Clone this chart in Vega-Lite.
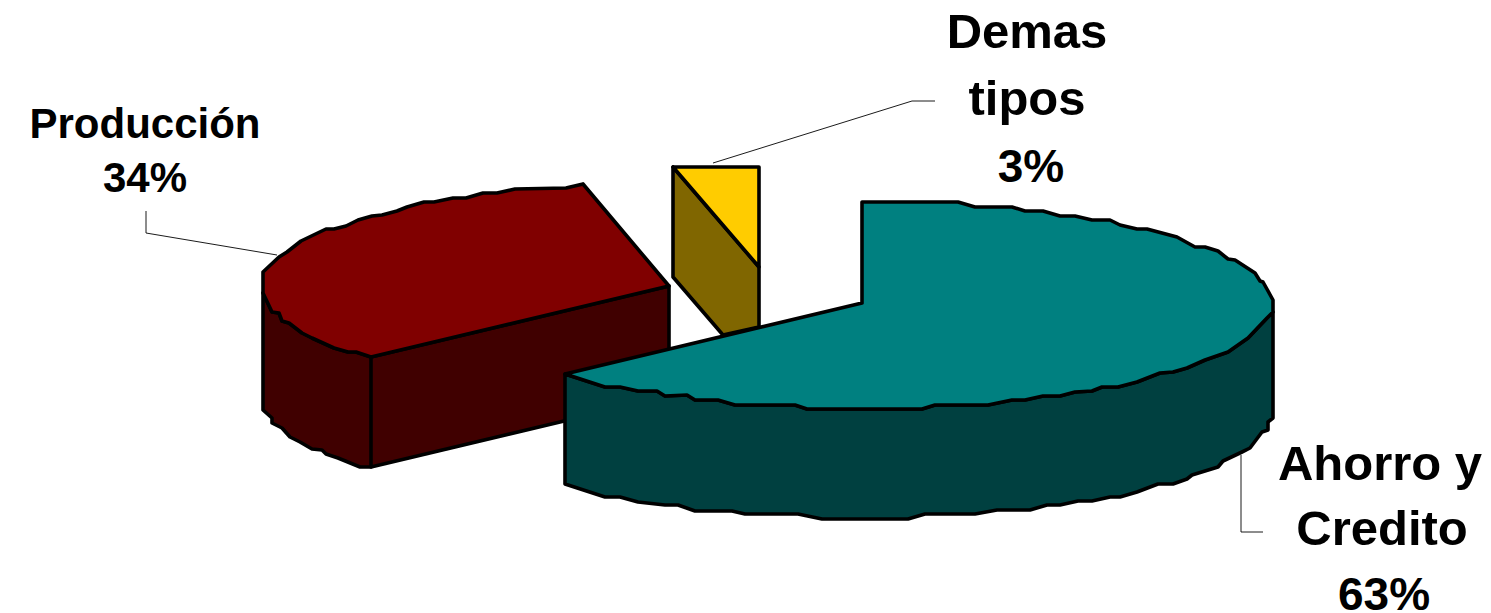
{"$schema":"https://vega.github.io/schema/vega-lite/v6.json","width":1491,"height":613,"padding":0,"autosize":{"type":"none"},"background":"white","view":{"stroke":null},
"layer":[
{"data":{"values":[
{"f":"Produccion lateral","x":263,"y":293},{"f":"Produccion lateral","x":272,"y":312},{"f":"Produccion lateral","x":279,"y":313},{"f":"Produccion lateral","x":282,"y":321},{"f":"Produccion lateral","x":289,"y":323},{"f":"Produccion lateral","x":302,"y":333},{"f":"Produccion lateral","x":312,"y":338},{"f":"Produccion lateral","x":334,"y":348},{"f":"Produccion lateral","x":348,"y":352},{"f":"Produccion lateral","x":356,"y":352},{"f":"Produccion lateral","x":371,"y":357},{"f":"Produccion lateral","x":669,"y":286},{"f":"Produccion lateral","x":669,"y":396},{"f":"Produccion lateral","x":371,"y":467},{"f":"Produccion lateral","x":360,"y":467},{"f":"Produccion lateral","x":338,"y":458},{"f":"Produccion lateral","x":326,"y":454},{"f":"Produccion lateral","x":322,"y":450},{"f":"Produccion lateral","x":312,"y":449},{"f":"Produccion lateral","x":300,"y":442},{"f":"Produccion lateral","x":290,"y":437},{"f":"Produccion lateral","x":282,"y":428},{"f":"Produccion lateral","x":272,"y":423},{"f":"Produccion lateral","x":272,"y":418},{"f":"Produccion lateral","x":263,"y":410},{"f":"Produccion lateral","x":263,"y":293},
{"f":"Produccion corte","x":371,"y":357},{"f":"Produccion corte","x":371,"y":467},
{"f":"Produccion","x":583,"y":184},{"f":"Produccion","x":566,"y":188},{"f":"Produccion","x":515,"y":189},{"f":"Produccion","x":497,"y":193},{"f":"Produccion","x":483,"y":193},{"f":"Produccion","x":466,"y":198},{"f":"Produccion","x":453,"y":198},{"f":"Produccion","x":434,"y":202},{"f":"Produccion","x":424,"y":202},{"f":"Produccion","x":407,"y":207},{"f":"Produccion","x":397,"y":211},{"f":"Produccion","x":382,"y":215},{"f":"Produccion","x":372,"y":216},{"f":"Produccion","x":358,"y":220},{"f":"Produccion","x":346,"y":226},{"f":"Produccion","x":334,"y":229},{"f":"Produccion","x":326,"y":229},{"f":"Produccion","x":301,"y":241},{"f":"Produccion","x":287,"y":252},{"f":"Produccion","x":279,"y":257},{"f":"Produccion","x":263,"y":272},{"f":"Produccion","x":263,"y":293},{"f":"Produccion","x":272,"y":312},{"f":"Produccion","x":279,"y":313},{"f":"Produccion","x":282,"y":321},{"f":"Produccion","x":289,"y":323},{"f":"Produccion","x":302,"y":333},{"f":"Produccion","x":312,"y":338},{"f":"Produccion","x":334,"y":348},{"f":"Produccion","x":348,"y":352},{"f":"Produccion","x":356,"y":352},{"f":"Produccion","x":371,"y":357},{"f":"Produccion","x":669,"y":286},{"f":"Produccion","x":583,"y":184},
{"f":"Demas lateral","x":673,"y":167},{"f":"Demas lateral","x":759,"y":267},{"f":"Demas lateral","x":759,"y":327},{"f":"Demas lateral","x":723,"y":335},{"f":"Demas lateral","x":673,"y":277},{"f":"Demas lateral","x":673,"y":167},
{"f":"Demas","x":673,"y":167},{"f":"Demas","x":759,"y":167},{"f":"Demas","x":759,"y":267},{"f":"Demas","x":673,"y":167},
{"f":"Ahorro lateral","x":1273,"y":312},{"f":"Ahorro lateral","x":1267,"y":318},{"f":"Ahorro lateral","x":1248,"y":338},{"f":"Ahorro lateral","x":1228,"y":352},{"f":"Ahorro lateral","x":1205,"y":360},{"f":"Ahorro lateral","x":1187,"y":368},{"f":"Ahorro lateral","x":1173,"y":372},{"f":"Ahorro lateral","x":1160,"y":373},{"f":"Ahorro lateral","x":1137,"y":382},{"f":"Ahorro lateral","x":1118,"y":387},{"f":"Ahorro lateral","x":1102,"y":387},{"f":"Ahorro lateral","x":1092,"y":391},{"f":"Ahorro lateral","x":1075,"y":392},{"f":"Ahorro lateral","x":1060,"y":396},{"f":"Ahorro lateral","x":1043,"y":396},{"f":"Ahorro lateral","x":1025,"y":400},{"f":"Ahorro lateral","x":1012,"y":400},{"f":"Ahorro lateral","x":988,"y":405},{"f":"Ahorro lateral","x":935,"y":405},{"f":"Ahorro lateral","x":922,"y":409},{"f":"Ahorro lateral","x":807,"y":409},{"f":"Ahorro lateral","x":795,"y":405},{"f":"Ahorro lateral","x":735,"y":405},{"f":"Ahorro lateral","x":718,"y":400},{"f":"Ahorro lateral","x":695,"y":400},{"f":"Ahorro lateral","x":687,"y":395},{"f":"Ahorro lateral","x":665,"y":396},{"f":"Ahorro lateral","x":657,"y":391},{"f":"Ahorro lateral","x":638,"y":391},{"f":"Ahorro lateral","x":620,"y":387},{"f":"Ahorro lateral","x":605,"y":387},{"f":"Ahorro lateral","x":565,"y":374},{"f":"Ahorro lateral","x":565,"y":484},{"f":"Ahorro lateral","x":605,"y":497},{"f":"Ahorro lateral","x":620,"y":497},{"f":"Ahorro lateral","x":638,"y":502},{"f":"Ahorro lateral","x":665,"y":505},{"f":"Ahorro lateral","x":678,"y":505},{"f":"Ahorro lateral","x":695,"y":511},{"f":"Ahorro lateral","x":732,"y":511},{"f":"Ahorro lateral","x":745,"y":514},{"f":"Ahorro lateral","x":798,"y":514},{"f":"Ahorro lateral","x":822,"y":519},{"f":"Ahorro lateral","x":908,"y":519},{"f":"Ahorro lateral","x":925,"y":514},{"f":"Ahorro lateral","x":975,"y":514},{"f":"Ahorro lateral","x":997,"y":510},{"f":"Ahorro lateral","x":1030,"y":510},{"f":"Ahorro lateral","x":1047,"y":505},{"f":"Ahorro lateral","x":1060,"y":505},{"f":"Ahorro lateral","x":1078,"y":501},{"f":"Ahorro lateral","x":1092,"y":501},{"f":"Ahorro lateral","x":1110,"y":497},{"f":"Ahorro lateral","x":1120,"y":497},{"f":"Ahorro lateral","x":1137,"y":492},{"f":"Ahorro lateral","x":1158,"y":484},{"f":"Ahorro lateral","x":1173,"y":484},{"f":"Ahorro lateral","x":1187,"y":479},{"f":"Ahorro lateral","x":1192,"y":475},{"f":"Ahorro lateral","x":1218,"y":467},{"f":"Ahorro lateral","x":1223,"y":461},{"f":"Ahorro lateral","x":1242,"y":452},{"f":"Ahorro lateral","x":1250,"y":448},{"f":"Ahorro lateral","x":1262,"y":432},{"f":"Ahorro lateral","x":1268,"y":430},{"f":"Ahorro lateral","x":1268,"y":422},{"f":"Ahorro lateral","x":1273,"y":418},{"f":"Ahorro lateral","x":1273,"y":312},
{"f":"Ahorro","x":862,"y":303},{"f":"Ahorro","x":862,"y":202},{"f":"Ahorro","x":958,"y":202},{"f":"Ahorro","x":975,"y":207},{"f":"Ahorro","x":1012,"y":207},{"f":"Ahorro","x":1025,"y":211},{"f":"Ahorro","x":1043,"y":211},{"f":"Ahorro","x":1060,"y":216},{"f":"Ahorro","x":1075,"y":216},{"f":"Ahorro","x":1092,"y":220},{"f":"Ahorro","x":1110,"y":220},{"f":"Ahorro","x":1120,"y":225},{"f":"Ahorro","x":1137,"y":229},{"f":"Ahorro","x":1147,"y":229},{"f":"Ahorro","x":1177,"y":237},{"f":"Ahorro","x":1195,"y":247},{"f":"Ahorro","x":1205,"y":247},{"f":"Ahorro","x":1218,"y":251},{"f":"Ahorro","x":1228,"y":259},{"f":"Ahorro","x":1235,"y":260},{"f":"Ahorro","x":1255,"y":273},{"f":"Ahorro","x":1260,"y":281},{"f":"Ahorro","x":1263,"y":282},{"f":"Ahorro","x":1273,"y":300},{"f":"Ahorro","x":1273,"y":312},{"f":"Ahorro","x":1267,"y":318},{"f":"Ahorro","x":1248,"y":338},{"f":"Ahorro","x":1228,"y":352},{"f":"Ahorro","x":1205,"y":360},{"f":"Ahorro","x":1187,"y":368},{"f":"Ahorro","x":1173,"y":372},{"f":"Ahorro","x":1160,"y":373},{"f":"Ahorro","x":1137,"y":382},{"f":"Ahorro","x":1118,"y":387},{"f":"Ahorro","x":1102,"y":387},{"f":"Ahorro","x":1092,"y":391},{"f":"Ahorro","x":1075,"y":392},{"f":"Ahorro","x":1060,"y":396},{"f":"Ahorro","x":1043,"y":396},{"f":"Ahorro","x":1025,"y":400},{"f":"Ahorro","x":1012,"y":400},{"f":"Ahorro","x":988,"y":405},{"f":"Ahorro","x":935,"y":405},{"f":"Ahorro","x":922,"y":409},{"f":"Ahorro","x":807,"y":409},{"f":"Ahorro","x":795,"y":405},{"f":"Ahorro","x":735,"y":405},{"f":"Ahorro","x":718,"y":400},{"f":"Ahorro","x":695,"y":400},{"f":"Ahorro","x":687,"y":395},{"f":"Ahorro","x":665,"y":396},{"f":"Ahorro","x":657,"y":391},{"f":"Ahorro","x":638,"y":391},{"f":"Ahorro","x":620,"y":387},{"f":"Ahorro","x":605,"y":387},{"f":"Ahorro","x":565,"y":374},{"f":"Ahorro","x":862,"y":303}
]},
"transform":[{"window":[{"op":"row_number","as":"n"}]}],
"mark":{"type":"line","filled":true,"stroke":"black","strokeWidth":3.6,"strokeJoin":"round","strokeCap":"round"},
"encoding":{
"x":{"field":"x","type":"quantitative","scale":{"domain":[0,1491]},"axis":null},
"y":{"field":"y","type":"quantitative","scale":{"domain":[613,0]},"axis":null},
"order":{"field":"n","type":"quantitative"},
"fill":{"field":"f","type":"nominal","legend":null,"scale":{"domain":["Produccion lateral","Produccion corte","Produccion","Demas lateral","Demas","Ahorro lateral","Ahorro"],"range":["#400000","#400000","#800000","#806600","#FFCC00","#004040","#008080"]}}
}},
{"data":{"values":[
{"l":"Demas","x":713,"y":163},{"l":"Demas","x":912,"y":101},{"l":"Demas","x":935,"y":101},
{"l":"Produccion","x":146,"y":211},{"l":"Produccion","x":146,"y":233},{"l":"Produccion","x":277,"y":255},
{"l":"Ahorro","x":1241,"y":455},{"l":"Ahorro","x":1241,"y":532},{"l":"Ahorro","x":1263,"y":532}
]},
"transform":[{"window":[{"op":"row_number","as":"n"}]}],
"mark":{"type":"line","stroke":"black","strokeWidth":0.9},
"encoding":{
"x":{"field":"x","type":"quantitative","scale":{"domain":[0,1491]},"axis":null},
"y":{"field":"y","type":"quantitative","scale":{"domain":[613,0]},"axis":null},
"detail":{"field":"l"},
"order":{"field":"n","type":"quantitative"}
}},
{"data":{"values":[
{"t":"3%","x":1031,"y":182},{"t":"63%","x":1384,"y":610}
]},
"mark":{"type":"text","font":"Liberation Sans","fontWeight":"bold","fontSize":46,"align":"center","baseline":"alphabetic","fill":"black"},
"encoding":{
"x":{"field":"x","type":"quantitative","scale":{"domain":[0,1491]},"axis":null},
"y":{"field":"y","type":"quantitative","scale":{"domain":[613,0]},"axis":null},
"text":{"field":"t"}
}},
{"data":{"values":[
{"t":"Demas","x":1027,"y":48},{"t":"tipos","x":1027,"y":115},
{"t":"Ahorro y","x":1380,"y":480},{"t":"Credito","x":1382,"y":545}
]},
"mark":{"type":"text","font":"Liberation Sans","fontWeight":"bold","fontSize":49,"align":"center","baseline":"alphabetic","fill":"black"},
"encoding":{
"x":{"field":"x","type":"quantitative","scale":{"domain":[0,1491]},"axis":null},
"y":{"field":"y","type":"quantitative","scale":{"domain":[613,0]},"axis":null},
"text":{"field":"t"}
}},
{"data":{"values":[
{"t":"Producción","x":145,"y":138},{"t":"34%","x":145,"y":192}
]},
"mark":{"type":"text","font":"Liberation Sans","fontWeight":"bold","fontSize":42,"align":"center","baseline":"alphabetic","fill":"black"},
"encoding":{
"x":{"field":"x","type":"quantitative","scale":{"domain":[0,1491]},"axis":null},
"y":{"field":"y","type":"quantitative","scale":{"domain":[613,0]},"axis":null},
"text":{"field":"t"}
}}
]}
